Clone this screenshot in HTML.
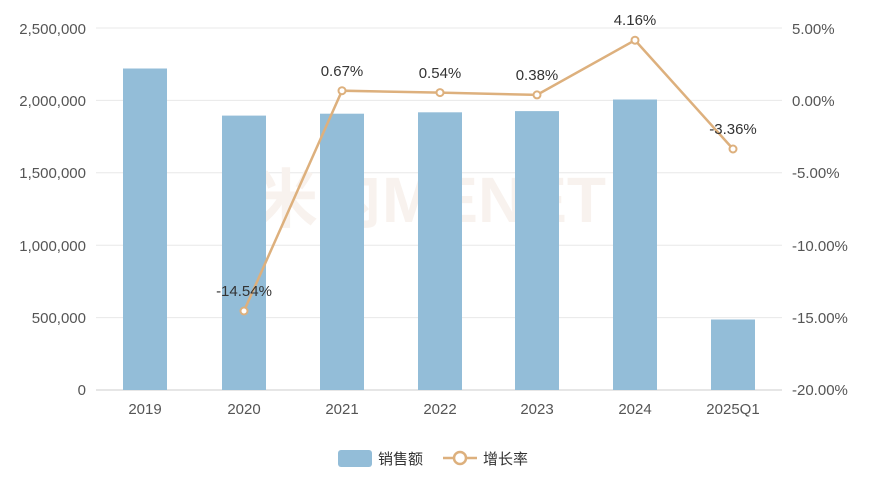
<!DOCTYPE html>
<html><head><meta charset="utf-8"><style>body{margin:0;background:#fff}svg{display:block}text{font-family:"Liberation Sans","Noto Sans CJK SC",sans-serif}</style></head><body>
<svg width="870" height="480" xmlns="http://www.w3.org/2000/svg">
<g stroke="#e8e8e8" stroke-width="1">
<line x1="96" y1="28" x2="782" y2="28"/><line x1="96" y1="100.4" x2="782" y2="100.4"/><line x1="96" y1="172.8" x2="782" y2="172.8"/><line x1="96" y1="245.2" x2="782" y2="245.2"/><line x1="96" y1="317.6" x2="782" y2="317.6"/></g>
<line x1="96" y1="390" x2="782" y2="390" stroke="#ccc"/>
<text x="430" y="222" font-size="64" font-weight="bold" fill="#f8f2ee" text-anchor="middle">米内MENET</text>
<g font-size="15" fill="#555" text-anchor="end">
<text x="86" y="34">2,500,000</text><text x="86" y="106">2,000,000</text><text x="86" y="178">1,500,000</text><text x="86" y="251">1,000,000</text><text x="86" y="323">500,000</text><text x="86" y="395">0</text></g>
<g font-size="15" fill="#555">
<text x="792" y="34">5.00%</text><text x="792" y="106">0.00%</text><text x="792" y="178">-5.00%</text><text x="792" y="251">-10.00%</text><text x="792" y="323">-15.00%</text><text x="792" y="395">-20.00%</text></g>
<g fill="#93bdd8">
<rect x="123" y="68.5" width="44" height="321.5"/><rect x="222" y="115.6" width="44" height="274.4"/><rect x="320" y="113.7" width="44" height="276.3"/><rect x="418" y="112.3" width="44" height="277.7"/><rect x="515" y="111.1" width="44" height="278.9"/><rect x="613" y="99.5" width="44" height="290.5"/><rect x="711" y="319.5" width="44" height="70.5"/></g>
<g font-size="15" fill="#555" text-anchor="middle">
<text x="145" y="414">2019</text><text x="244" y="414">2020</text><text x="342" y="414">2021</text><text x="440" y="414">2022</text><text x="537" y="414">2023</text><text x="635" y="414">2024</text><text x="733" y="414">2025Q1</text></g>
<polyline points="244,311 342,90.7 440,92.6 537,94.9 635,40.2 733,149" fill="none" stroke="#ddb07d" stroke-width="2.5"/>
<g fill="#fff" stroke="#ddb07d" stroke-width="2">
<circle cx="244" cy="311" r="3.5"/><circle cx="342" cy="90.7" r="3.5"/><circle cx="440" cy="92.6" r="3.5"/><circle cx="537" cy="94.9" r="3.5"/><circle cx="635" cy="40.2" r="3.5"/><circle cx="733" cy="149" r="3.5"/></g>
<g font-size="15" fill="#333" text-anchor="middle">
<text x="244" y="296">-14.54%</text><text x="342" y="76">0.67%</text><text x="440" y="78">0.54%</text><text x="537" y="80">0.38%</text><text x="635" y="25">4.16%</text><text x="733" y="134">-3.36%</text></g>
<rect x="338" y="450" width="34" height="17" rx="3" fill="#93bdd8"/>
<text x="378" y="464" font-size="15" fill="#333">销售额</text>
<line x1="443" y1="458" x2="477" y2="458" stroke="#ddb07d" stroke-width="2.5"/>
<circle cx="460" cy="458" r="6" fill="#fff" stroke="#ddb07d" stroke-width="2.5"/>
<text x="483" y="464" font-size="15" fill="#333">增长率</text>
</svg>
</body></html>
